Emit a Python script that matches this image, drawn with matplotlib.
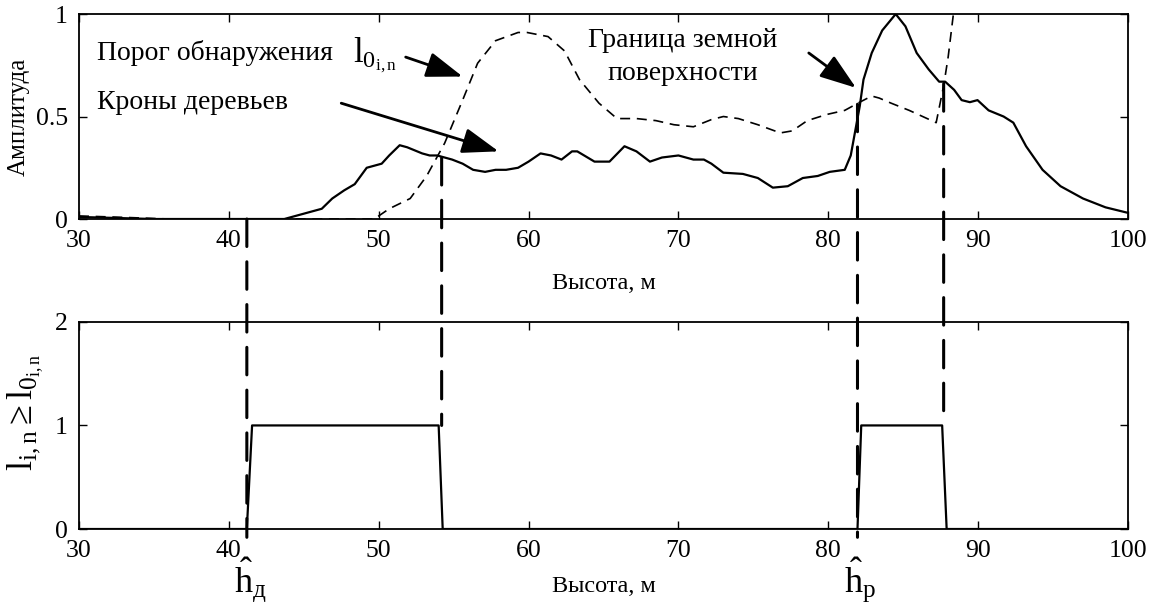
import matplotlib
matplotlib.use("Agg")
import matplotlib.pyplot as plt
from matplotlib.patches import ConnectionPatch

plt.rcParams['font.family'] = ['Liberation Serif', 'DejaVu Serif']
plt.rcParams['mathtext.fontset'] = 'custom'
plt.rcParams['mathtext.rm'] = 'Liberation Serif'
plt.rcParams['mathtext.it'] = 'Liberation Serif:italic'
plt.rcParams['mathtext.bf'] = 'Liberation Serif:bold'

# Отраженный сигнал (сплошная линия)
sig_x = [30, 35, 40, 43.7, 44.5, 46.2, 46.9, 47.7, 48.4, 49.2, 49.7, 50.2, 50.7, 51.4,
         51.9, 52.9, 53.4, 53.9, 54.4, 54.9, 55.6, 56.3, 57.1, 57.8, 58.5, 59.3, 60.0,
         60.8, 61.5, 62.2, 62.9, 63.25, 64.4, 65.4, 66.4, 67.2, 68.1, 68.9, 70.0, 71.0,
         71.7, 72.2, 73.0, 74.3, 75.3, 76.3, 77.3, 78.3, 79.3, 80.1, 81.1, 81.5, 81.7,
         82.1, 82.35, 82.9, 83.6, 84.5, 85.15, 85.9, 86.7, 87.4, 87.8, 88.4, 88.9, 89.45,
         89.96, 90.7, 91.7, 92.35, 93.2, 94.3, 95.5, 97.0, 98.5, 100]
sig_y = [0.01, 0.0, 0.0, 0.0, 0.016, 0.05, 0.10, 0.14, 0.17, 0.25, 0.26, 0.27, 0.31, 0.36,
         0.35, 0.32, 0.31, 0.31, 0.30, 0.29, 0.27, 0.24, 0.23, 0.24, 0.24, 0.25, 0.28,
         0.32, 0.31, 0.29, 0.33, 0.33, 0.28, 0.28, 0.355, 0.33, 0.28, 0.30, 0.31, 0.29,
         0.29, 0.27, 0.226, 0.22, 0.20, 0.153, 0.16, 0.20, 0.21, 0.23, 0.24, 0.31, 0.39,
         0.55, 0.68, 0.81, 0.92, 1.0, 0.94, 0.81, 0.73, 0.67, 0.67, 0.63, 0.58, 0.57,
         0.58, 0.53, 0.50, 0.47, 0.355, 0.24, 0.16, 0.10, 0.057, 0.03]

# Порог обнаружения (штриховая линия)
thr_x = [30, 33, 36, 40, 45, 49.7, 50.7, 52.1, 53.2, 54.4, 55.6, 56.6, 57.8, 59.3, 59.9,
         61.3, 62.4, 63.4, 64.7, 65.9, 67.2, 68.5, 69.7, 71.0, 72.2, 73.0, 74.0, 75.3,
         76.8, 77.6, 78.6, 79.9, 81.1, 82.1, 82.9, 83.4, 84.2, 85.4, 87.2, 87.7, 88.0,
         88.35, 88.6]
thr_y = [0.015, 0.008, 0.0, 0.0, 0.0, 0.0, 0.05, 0.10, 0.21, 0.37, 0.58, 0.76, 0.87, 0.91,
         0.91, 0.89, 0.82, 0.68, 0.565, 0.49, 0.49, 0.48, 0.46, 0.45, 0.485, 0.50, 0.49,
         0.46, 0.42, 0.43, 0.48, 0.51, 0.53, 0.57, 0.60, 0.59, 0.565, 0.53, 0.47, 0.65,
         0.79, 1.0, 1.3]

# Решение l >= l0
step_x = [30, 41.2, 41.55, 54.0, 54.27, 81.95, 82.2, 87.6, 87.9, 100]
step_y = [0, 0, 1, 1, 0, 0, 1, 1, 0, 0]

# Вертикальные штриховые линии: (x, начало на верхнем графике, конец на нижнем)
marks = [(41.2, 0.0, -0.08), (54.2, 0.30, 1.0), (81.95, 0.56, -0.08), (87.7, 0.66, 1.0)]

fig = plt.figure(figsize=(11.55, 6.05), dpi=100)
ax1 = fig.add_axes([0.0684, 0.638, 0.9082, 0.3388])
ax2 = fig.add_axes([0.0684, 0.1256, 0.9082, 0.3424])

ax1.plot(sig_x, sig_y, color='black', lw=1.6)
ax1.plot(thr_x, thr_y, color='black', lw=1.2, dashes=(6, 4))
ax1.set_xlim(30, 100)
ax1.set_ylim(0, 1)
ax1.set_yticks([0, 0.5, 1])
ax1.set_yticklabels(['0', '0.5', '1'])
ax1.set_xlabel('Высота, м', fontsize=17.5, labelpad=15)
ax1.set_ylabel('Амплитуда', fontsize=18, labelpad=4)

ax2.plot(step_x, step_y, color='black', lw=1.6)
ax2.set_xlim(30, 100)
ax2.set_ylim(0, 2)
ax2.set_yticks([0, 1, 2])
ax2.set_xlabel('Высота, м', fontsize=17.5, labelpad=10)
ax2.set_ylabel(r'$\mathrm{l}_{\mathrm{i,n}}\geq\mathrm{l}_{0_{\mathrm{i,n}}}$', fontsize=26)
ax2.yaxis.set_label_coords(-0.031, 0.56)

for ax in (ax1, ax2):
    ax.set_xticks(range(30, 101, 10))
    ax.tick_params(direction='in', top=True, right=True, length=6, width=1,
                   labelsize=18.5, pad=8)
    for s in ax.spines.values():
        s.set_linewidth(1.3)

for x, ytop, ybot in marks:
    con = ConnectionPatch(xyA=(x, ytop), coordsA=ax1.transData,
                          xyB=(x, ybot), coordsB=ax2.transData,
                          color='black', lw=2.2, linestyle=(0, (9, 5)))
    fig.add_artist(con)

# Аннотации
ax1.text(31.2, 0.81, 'Порог обнаружения', fontsize=20, va='center')
ax1.text(48.3, 0.80, r'$\mathrm{l}_{0_{\mathrm{i,n}}}$', fontsize=25, va='center')
ax1.text(31.2, 0.57, 'Кроны деревьев', fontsize=20, va='center')
ax1.text(70.3, 0.87, 'Граница земной', fontsize=20, ha='center', va='center')
ax1.text(70.3, 0.71, 'поверхности', fontsize=20, ha='center', va='center')

arrow = dict(arrowstyle='-|>,head_length=0.8,head_width=0.28', color='black', lw=2,
             mutation_scale=28, shrinkA=0, shrinkB=0)
ax1.annotate('', xy=(55.6, 0.695), xytext=(51.8, 0.79), arrowprops=arrow)
ax1.annotate('', xy=(58.0, 0.33), xytext=(47.5, 0.565), arrowprops=arrow)
ax1.annotate('', xy=(81.85, 0.64), xytext=(78.7, 0.81), arrowprops=arrow)

# Метки h под нижней осью
ax2.text(41.4, -0.26, r'$\hat{\mathrm{h}}_{\mathrm{д}}$', fontsize=26, ha='center', va='top')
ax2.text(82.1, -0.26, r'$\hat{\mathrm{h}}_{\mathrm{р}}$', fontsize=26, ha='center', va='top')

fig.savefig('out.png', dpi=100)
